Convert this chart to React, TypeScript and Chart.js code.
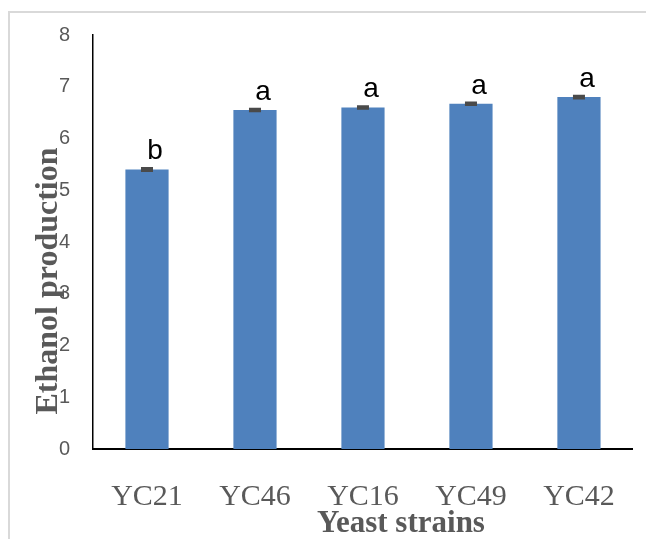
import React, { useEffect, useRef } from "react";
import { Chart, registerables } from "chart.js";

Chart.register(...registerables);

const categories = ["YC21", "YC46", "YC16", "YC49", "YC42"];
const values = [5.4, 6.55, 6.6, 6.67, 6.8];
const errors = [0.025, 0.02, 0.02, 0.02, 0.02];
const letters = ["b", "a", "a", "a", "a"];
const yTitle = "Ethanol production";
const xTitle = "Yeast strains";

const GRAY = "#595959";

const decorPlugin = {
  id: "decor",
  beforeDraw(chart: any) {
    const ctx = chart.ctx;
    ctx.save();
    ctx.fillStyle = "#d9d9d9";
    ctx.fillRect(8, 11, 2, chart.height - 11);
    ctx.fillRect(8, 11, chart.width - 8, 2);
    ctx.restore();
  },
  afterDatasetsDraw(chart: any) {
    const ctx = chart.ctx;
    const meta = chart.getDatasetMeta(0);
    const y = chart.scales.y;
    ctx.save();
    meta.data.forEach((bar: any, i: number) => {
      const v = values[i];
      const e = errors[i];
      const yTop = y.getPixelForValue(v + e);
      const yBot = y.getPixelForValue(v - e);
      ctx.strokeStyle = "#4a4a4a";
      ctx.lineWidth = 2.5;
      ctx.beginPath();
      ctx.moveTo(bar.x - 6, yTop);
      ctx.lineTo(bar.x + 6, yTop);
      ctx.moveTo(bar.x - 6, yBot);
      ctx.lineTo(bar.x + 6, yBot);
      ctx.moveTo(bar.x, yTop);
      ctx.lineTo(bar.x, yBot);
      ctx.stroke();
      ctx.fillStyle = "#000";
      ctx.font = "28px 'Liberation Sans'";
      ctx.textAlign = "center";
      ctx.textBaseline = "alphabetic";
      ctx.fillText(letters[i], bar.x + 8, yTop - 9);
    });
    ctx.restore();
  },
  afterDraw(chart: any) {
    const ctx = chart.ctx;
    const a = chart.chartArea;
    ctx.save();
    ctx.fillStyle = GRAY;
    ctx.font = "bold 31px 'Liberation Serif'";
    ctx.textAlign = "center";
    ctx.textBaseline = "alphabetic";
    ctx.fillText(xTitle, (a.left + a.right) / 2 + 38, a.bottom + 83);
    ctx.restore();
    ctx.save();
    ctx.fillStyle = GRAY;
    ctx.font = "bold 32px 'Liberation Serif'";
    ctx.textAlign = "center";
    ctx.textBaseline = "alphabetic";
    ctx.translate(a.left - 36, a.bottom - 168);
    ctx.rotate(-Math.PI / 2);
    ctx.fillText(yTitle, 0, 0);
    ctx.restore();
  },
};

export default function App() {
  const ref = useRef<HTMLCanvasElement>(null);
  useEffect(() => {
    if (!ref.current) return;
    const chart = new Chart(ref.current, {
      type: "bar",
      data: {
        labels: categories,
        datasets: [
          {
            data: values,
            backgroundColor: "#4f81bd",
            barPercentage: 0.4,
            categoryPercentage: 1,
          },
        ],
      },
      options: {
        animation: false,
        responsive: false,
        layout: { padding: { top: 35, right: 12, left: 0, bottom: 0 } },
        plugins: { legend: { display: false }, tooltip: { enabled: false } },
        scales: {
          x: {
            grid: { display: false, drawTicks: false },
            border: { display: true, color: "#000", width: 2 },
            ticks: {
              color: GRAY,
              font: { family: "'Liberation Serif'", size: 30 },
              padding: 30,
            },
            afterFit(scale: any) {
              scale.height = 90;
            },
          },
          y: {
            min: 0,
            max: 8,
            grid: { display: false, drawTicks: false },
            border: { display: true, color: "#000", width: 1.5 },
            ticks: {
              stepSize: 1,
              color: GRAY,
              font: { family: "'Liberation Sans'", size: 20 },
              padding: 23,
            },
            afterFit(scale: any) {
              scale.width = 93;
            },
          },
        },
      },
      plugins: [decorPlugin],
    });
    return () => chart.destroy();
  }, []);
  return (
    <div style={{ position: "fixed", left: 0, top: 0, width: 646, height: 539, background: "#fff" }}>
      <canvas ref={ref} width={646} height={539} style={{ display: "block" }} />
    </div>
  );
}
